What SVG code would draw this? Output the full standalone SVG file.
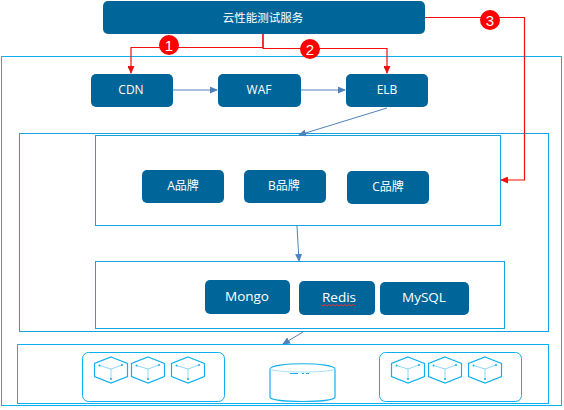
<svg xmlns="http://www.w3.org/2000/svg" width="564" height="410" viewBox="0 0 564 410">
<style>
.frame{fill:none;stroke:#0cb0ee;stroke-width:1}
.frame2{fill:none;stroke:#16a3e0;stroke-width:1}
.box{fill:#006699}
.t{fill:#fff;font-family:"Open Sans","Noto Sans CJK SC",sans-serif;font-size:12px;text-anchor:middle}
.m{font-size:13.500px}
.l{fill:none;stroke:#4f81bd;stroke-width:1}
.r{fill:none;stroke:#f01010;stroke-width:1.2}
.b{fill:#fe0000}
.n{fill:#fff;font-family:"Liberation Sans",sans-serif;font-size:15px;text-anchor:middle}
.cube{fill:none;stroke:#14b0ec;stroke-width:1.2}
.in{fill:none;stroke:#5cc6f0;stroke-width:.7}
.dot{fill:#14b0ec}
</style>
<defs>
<marker id="ab" markerWidth="8" markerHeight="7" refX="7" refY="3.5" orient="auto" markerUnits="userSpaceOnUse"><path d="M0 0L8 3.5L0 7z" fill="#4f81bd"/></marker>
<marker id="ar" markerWidth="8" markerHeight="7" refX="7" refY="3.5" orient="auto" markerUnits="userSpaceOnUse"><path d="M0 0L8 3.5L0 7z" fill="#f01010"/></marker>
<g id="c"><path class="cube" d="M0-13L16.500-6.500V6.500L0 13L-16.500 6.500V-6.500Z"/><path class="in" d="M-11.500-4.500L0-1L11-5M0-1V9"/><circle class="dot" cx="-11.500" cy="-4.500" r="1"/><circle class="dot" cx="11" cy="-5" r="1"/><circle class="dot" cx="0" cy="9" r="1"/></g>
</defs>
<g id="frames">
<rect class="frame" x="1.500" y="56.500" width="560" height="349"/>
<rect class="frame2" x="19.500" y="133.500" width="529" height="198"/>
<rect class="frame2" x="95.500" y="135.500" width="405" height="90"/>
<rect class="frame2" x="95.500" y="261.500" width="409" height="67"/>
<rect class="frame" x="17.500" y="344.500" width="531" height="59"/>
<rect class="frame" x="82.500" y="352.500" width="142" height="49" rx="6"/>
<rect class="frame" x="379.500" y="352.500" width="142" height="49" rx="6"/>
</g>
<g id="connectors">
<path class="l" d="M173 90H217" marker-end="url(#ab)"/>
<path class="l" d="M301 90H345" marker-end="url(#ab)"/>
<path class="l" d="M387 108L299 135" marker-end="url(#ab)"/>
<path class="l" d="M297 226L299 261" marker-end="url(#ab)"/>
<path class="l" d="M303 332L283 344" marker-end="url(#ab)"/>
<path class="r" d="M263 34V47.500H131V73" marker-end="url(#ar)"/>
<path class="r" d="M263 34V48.500H387V73" marker-end="url(#ar)"/>
<path class="r" d="M425 17.500H524.500V180H501" marker-end="url(#ar)"/>
</g>
<g id="svc"><rect class="box" x="103" y="1" width="322" height="33" rx="5"/><text class="t" x="263" y="22" style="font-size:11.500px">云性能测试服务</text></g>
<g id="cdn"><rect class="box" x="91" y="74" width="82" height="33" rx="5"/><text class="t" x="131" y="94">CDN</text></g>
<g id="waf"><rect class="box" x="218" y="74" width="83" height="33" rx="5"/><text class="t" x="259" y="94">WAF</text></g>
<g id="elb"><rect class="box" x="346" y="74" width="82" height="33" rx="5"/><text class="t" x="387" y="94">ELB</text></g>
<g id="a"><rect class="box" x="142" y="170" width="82" height="33" rx="5"/><text class="t" x="183" y="190">A品牌</text></g>
<g id="b"><rect class="box" x="244" y="170" width="82" height="33" rx="5"/><text class="t" x="284" y="190">B品牌</text></g>
<g id="c-brand"><rect class="box" x="347" y="171" width="82" height="33" rx="5"/><text class="t" x="388" y="191">C品牌</text></g>
<g id="mongo"><rect class="box" x="205" y="280" width="85" height="34" rx="5"/><text class="t m" x="247" y="301">Mongo</text></g>
<g id="redis"><rect class="box" x="299" y="281" width="76" height="34" rx="5"/><text class="t m" x="339" y="302">Redis</text><path d="M321 304.500l2 1.500 2-1.500 2 1.500 2-1.500 2 1.500 2-1.500 2 1.500 2-1.500 2 1.500 2-1.500 2 1.500 2-1.500 2 1.500 2-1.500 2 1.500 2-1.500 2 1.500" fill="none" stroke="#f03030" stroke-width="1"/></g>
<g id="mysql"><rect class="box" x="380" y="282" width="89" height="33" rx="5"/><text class="t m" x="424" y="302">MySQL</text></g>
<g id="badge1"><circle class="b" cx="169" cy="45" r="10"/><text class="n" x="169" y="50.500">1</text></g>
<g id="badge2"><circle class="b" cx="310" cy="49" r="10"/><text class="n" x="310" y="54.500">2</text></g>
<g id="badge3"><circle class="b" cx="490" cy="20" r="10"/><text class="n" x="490" y="25.500">3</text></g>
<g id="cubes-left"><use href="#c" x="111" y="370"/><use href="#c" x="148" y="370"/><use href="#c" x="188" y="370"/></g>
<g id="cubes-right"><use href="#c" x="408" y="370"/><use href="#c" x="445" y="370"/><use href="#c" x="485" y="370"/></g>
<g id="db"><path class="cube" d="M270 369V397C270 403 335 403 335 397V369C335 362 270 362 270 369"/><path d="M270 369C275 373 330 373 335 369" fill="none" stroke="#a5e0f7" stroke-width="1"/><path d="M290 373.500h8M302 373.500h2M306 373.500h3" fill="none" stroke="#14b0ec" stroke-width="1"/></g>
</svg>
